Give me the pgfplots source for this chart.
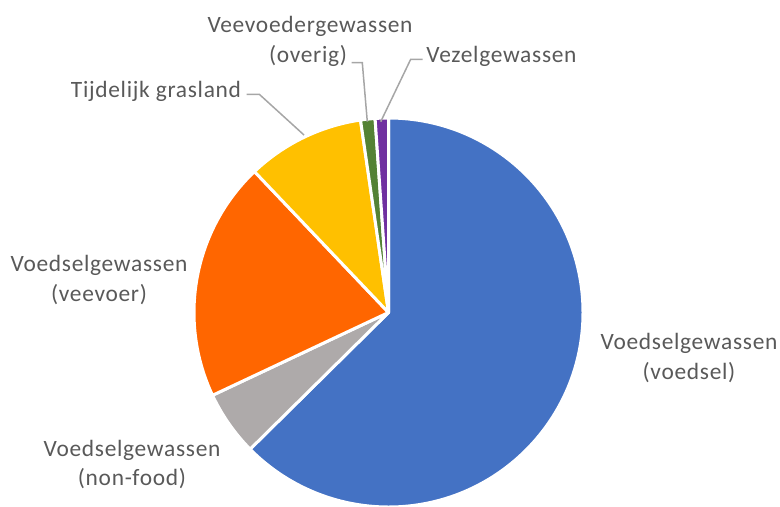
\documentclass[border=0pt]{standalone}
\usepackage{pgfplots}
\usepackage{pgfplotstable}
\pgfplotsset{compat=1.18}
\usepackage{fontspec}
\setmainfont{Carlito}[LetterSpace=3]
\definecolor{cBlue}{HTML}{4472C4}
\definecolor{cGray}{HTML}{AEAAAA}
\definecolor{cOrange}{HTML}{FF6600}
\definecolor{cYellow}{HTML}{FFC000}
\definecolor{cGreen}{HTML}{548235}
\definecolor{cPurple}{HTML}{7030A0}
\definecolor{cText}{HTML}{595959}
\definecolor{cLeader}{HTML}{A6A6A6}
\pgfplotstableread{
slice value
voedsel 62.6
nonfood 5.4
veevoer 19.9
grasland 9.8
overig 1.2
vezel 1.1
}\piedata
\begin{document}
\begin{tikzpicture}
\pgfplotstablegetelem{0}{value}\of\piedata \let\vA\pgfplotsretval
\pgfplotstablegetelem{1}{value}\of\piedata \let\vB\pgfplotsretval
\pgfplotstablegetelem{2}{value}\of\piedata \let\vC\pgfplotsretval
\pgfplotstablegetelem{3}{value}\of\piedata \let\vD\pgfplotsretval
\pgfplotstablegetelem{4}{value}\of\piedata \let\vE\pgfplotsretval
\pgfplotstablegetelem{5}{value}\of\piedata \let\vF\pgfplotsretval
\pgfmathsetmacro\aA{90}
\pgfmathsetmacro\aB{\aA-3.6*\vA}
\pgfmathsetmacro\aC{\aB-3.6*\vB}
\pgfmathsetmacro\aD{\aC-3.6*\vC}
\pgfmathsetmacro\aE{\aD-3.6*\vD}
\pgfmathsetmacro\aF{\aE-3.6*\vE}
\pgfmathsetmacro\aG{\aF-3.6*\vF}
\def\R{194.5bp}
\begin{axis}[scale only axis, width=780bp, height=506bp,
  xmin=0, xmax=780, ymin=0, ymax=506, y dir=reverse,
  hide axis, clip=false]
\tikzset{slice/.style={draw=white, line width=3bp, line join=round}}
\filldraw[slice, fill=cBlue]   (axis cs:388.5,312.5) -- ++(\aA:\R) arc[start angle=\aA, end angle=\aB, radius=\R] -- cycle;
\filldraw[slice, fill=cGray]   (axis cs:388.5,312.5) -- ++(\aB:\R) arc[start angle=\aB, end angle=\aC, radius=\R] -- cycle;
\filldraw[slice, fill=cOrange] (axis cs:388.5,312.5) -- ++(\aC:\R) arc[start angle=\aC, end angle=\aD, radius=\R] -- cycle;
\filldraw[slice, fill=cYellow] (axis cs:388.5,312.5) -- ++(\aD:\R) arc[start angle=\aD, end angle=\aE, radius=\R] -- cycle;
\filldraw[slice, fill=cGreen]  (axis cs:388.5,312.5) -- ++(\aE:\R) arc[start angle=\aE, end angle=\aF, radius=\R] -- cycle;
\filldraw[slice, fill=cPurple] (axis cs:388.5,312.5) -- ++(\aF:\R) arc[start angle=\aF, end angle=\aG, radius=\R] -- cycle;
% leader lines
\draw[cLeader, line width=1.5bp] (axis cs:246.7,94.3) -- (axis cs:259.3,94.3) -- (axis cs:304,135);
\draw[cLeader, line width=1.5bp] (axis cs:351.7,62.7) -- (axis cs:362.3,62.7) -- (axis cs:367.3,121.7);
\draw[cLeader, line width=1.5bp] (axis cs:422.7,59.3) -- (axis cs:410.7,59.3) -- (axis cs:380.7,121.7);
% labels
\tikzset{lab/.style={anchor=base, text=cText, font=\fontsize{23.5}{28}\selectfont, inner sep=0pt}}
\node[lab] at (axis cs:689,349) {Voedselgewassen};
\node[lab] at (axis cs:689,379) {(voedsel)};
\node[lab] at (axis cs:99,271.7) {Voedselgewassen};
\node[lab] at (axis cs:99,301.7) {(veevoer)};
\node[lab] at (axis cs:132,456) {Voedselgewassen};
\node[lab] at (axis cs:132,485) {(non-food)};
\node[lab] at (axis cs:156,97) {Tijdelijk grasland};
\node[lab] at (axis cs:310,33) {Veevoedergewassen};
\node[lab] at (axis cs:308,63) {(overig)};
\node[lab] at (axis cs:501.5,63) {Vezelgewassen};
\end{axis}
\pgfresetboundingbox
\path (current axis.south west) rectangle (current axis.north east);
\end{tikzpicture}
\end{document}
